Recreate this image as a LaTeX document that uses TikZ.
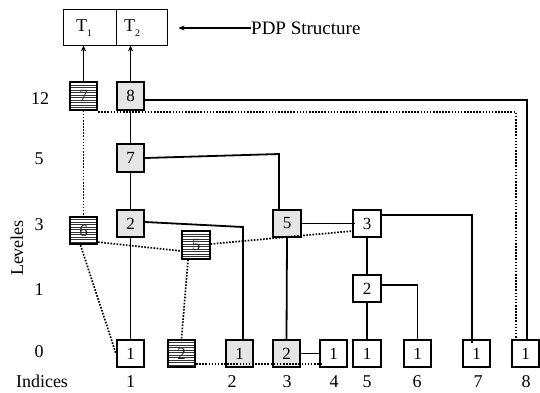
\documentclass[tikz,border=0pt]{standalone}
\usepackage{fontspec}
\setmainfont{Liberation Serif}
\usetikzlibrary{arrows.meta,calc}
\begin{document}
\begin{tikzpicture}[x=1pt,y=-1pt,
  box/.style={draw,line width=1.7pt,minimum size=27.5pt,inner sep=0pt,font=\fontsize{17}{17}\selectfont},
  gbox/.style={box,fill=gray!20},
  wbox/.style={box,fill=white},
  sbox/.style={box,fill=white,text=black!85,path picture={
     \foreach \k in {1,...,10}{\draw[line width=0.55pt,black!80] ($(path picture bounding box.north west)+(0,\k*2.55)$) -- ($(path picture bounding box.north east)+(0,\k*2.55)$);}}},
  lab/.style={font=\fontsize{18}{18}\selectfont,inner sep=0pt},
  conn/.style={line width=1.8pt},
  dot/.style={line width=1.7pt,dash pattern=on 1.6pt off 1.5pt},
  arr/.style={line width=1.5pt,-{Stealth[length=6pt,width=5pt]}}
]
\useasboundingbox (0,0) rectangle (540,392);

% PDP structure
\node[draw,line width=0.8pt,minimum width=104pt,minimum height=36pt,inner sep=0pt] (pdp) at (115,27) {};
\draw[line width=0.8pt] (116,9) coordinate (dv1) -- (116,45) coordinate (dv2);
\node[lab] (t1) at (84,28) {T\raisebox{-4.5pt}{\fontsize{10}{10}\selectfont 1}};
\node[lab] (t2) at (132,28) {T\raisebox{-4.5pt}{\fontsize{10}{10}\selectfont 2}};
\node[lab,anchor=west,font=\fontsize{19}{19}\selectfont] (pdplbl) at (251,28) {PDP Structure};
\draw[arr] (pdplbl.west) -- ([xshift=11pt]pdp.east |- pdplbl.west);

% axis labels
\node[lab] (l12) at (40,99) {12};
\node[lab] (l5) at (39,159) {5};
\node[lab] (l3) at (39,225) {3};
\node[lab] (l1) at (39,290) {1};
\node[lab] (l0) at (39,352) {0};
\node[lab] (ind) at (42,381) {Indices};
\node[lab,rotate=90] (lev) at (17,248) {Leveles};

% index labels
\foreach \n/\x in {1/130.5,2/232,3/287,4/334,5/367,6/417,7/478,8/526}
  \node[lab] (ix\n) at (\x,382) {\n};

% nodes
\node[sbox] (s7) at (83.5,96) {7};
\node[gbox] (g8) at (130.5,96) {8};
\node[gbox] (g7) at (130.5,158) {7};
\node[gbox] (g2) at (130.5,223.5) {2};
\node[sbox] (s6) at (83.5,230.5) {6};
\node[sbox] (s5) at (196,245) {5};
\node[gbox] (g5) at (287,223.5) {5};
\node[wbox] (w3) at (367,223.5) {3};
\node[wbox] (w2) at (367,288.5) {2};

\node[wbox] (a1) at (130.5,353.5) {1};
\node[sbox] (a2) at (181.5,353.5) {2};
\node[gbox] (a3) at (239.5,353.5) {1};
\node[gbox] (a4) at (286.5,353.5) {2};
\node[wbox] (a5) at (333.5,353.5) {1};
\node[wbox] (a6) at (367,353.5) {1};
\node[wbox] (a7) at (417.5,353.5) {1};
\node[wbox] (a8) at (476.5,353.5) {1};
\node[wbox] (a9) at (525.5,353.5) {1};

\coordinate (k1) at (279,154);
\coordinate (k2) at (243,227);

% arrows to PDP
\draw[arr] (s7.north) -- (s7.north |- pdp.south);
\draw[arr] (g8.north) -- (g8.north |- pdp.south);

% solid connectors
\draw[conn] ([yshift=-4pt]g8.east) -| ([xshift=1.5pt]a9.north);
\draw[conn] (g8.south) -- (g7.north);
\draw[conn] (g7.south) -- (g2.north);
\draw[conn] (g2.south) -- (a1.north);
\draw[conn] (g7.east) -- (k1) -- (k1 |- g5.north);
\draw[conn] ([yshift=1.5pt]g2.east) -- (k2) -- (k2 |- a3.north);
\draw[conn] (g5.east) -- ([xshift=3pt]w3.west);
\draw[conn] (g5.south) -- (a4.north);
\draw[conn] (a4.east) -- (a5.west);
\draw[conn] (w3.south) -- (w2.north);
\draw[conn] (w2.south) -- (a6.north);
\draw[conn] ([yshift=8.5pt]w3.east) -| ([xshift=-4.5pt,yshift=-4pt]a8.north);
\draw[conn] ([yshift=3.5pt]w2.east) -| (a7.north);

% dotted connectors
\draw[dot] ([yshift=-1.5pt]s7.south east) -| ([xshift=-9.5pt]a9.north);
\draw[dot] (s7.south) -- (s6.north);
\draw[dot] ([yshift=3pt]s6.south east) -- ([yshift=-6pt]s5.west);
\draw[dot] ([yshift=1pt]s5.east) -- ([yshift=-7.5pt]w3.west);
\draw[dot] ([xshift=-3pt]s6.south) -- (a1.west);
\draw[dot] ([xshift=-8pt]s5.south) -- (a2.north);
\draw[dot] ([yshift=-10.5pt]a2.east) -- ([yshift=-10.5pt,xshift=4pt]a5.west);
\end{tikzpicture}
\end{document}
